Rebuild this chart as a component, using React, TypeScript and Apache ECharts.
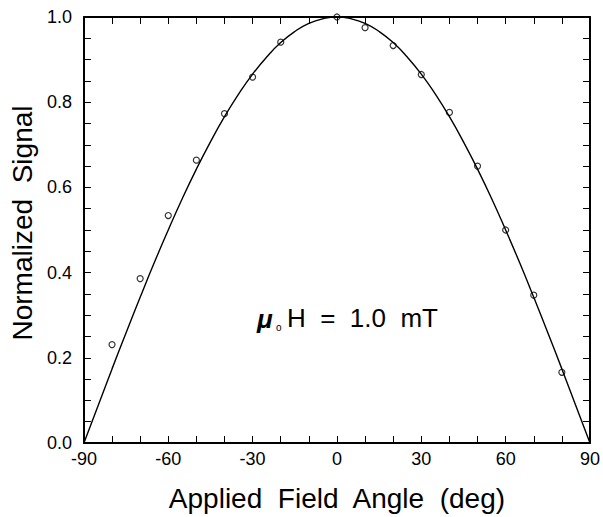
import React, { useEffect, useRef } from "react";
import * as echarts from "echarts";

// Measured points (angle in degrees, normalized signal)
const pointAngles = [-80, -70, -60, -50, -40, -30, -20, 0, 10, 20, 30, 40, 50, 60, 70, 80];
const pointValues = [0.231, 0.386, 0.534, 0.664, 0.773, 0.859, 0.941, 1.0, 0.975, 0.933, 0.865, 0.776, 0.65, 0.5, 0.347, 0.166];

// Fitted curve at 5-degree steps
const curveAngles = [
  -90, -85, -80, -75, -70, -65, -60, -55, -50, -45, -40, -35, -30, -25, -20, -15, -10, -5, 0,
  5, 10, 15, 20, 25, 30, 35, 40, 45, 50, 55, 60, 65, 70, 75, 80, 85, 90,
];
const curveValues = [
  0.0, 0.087, 0.174, 0.259, 0.342, 0.423, 0.5, 0.574, 0.643, 0.707, 0.766, 0.819, 0.866, 0.906, 0.94, 0.966, 0.985, 0.996, 1.0,
  0.996, 0.985, 0.966, 0.94, 0.906, 0.866, 0.819, 0.766, 0.707, 0.643, 0.574, 0.5, 0.423, 0.342, 0.259, 0.174, 0.087, 0.0,
];

const xMajorTicks = [-90, -60, -30, 0, 30, 60, 90];
const yMajorTicks = ["0.0", "0.2", "0.4", "0.6", "0.8", "1.0"];

const FONT = "'Liberation Sans', Arial, Helvetica, sans-serif";

export default function App() {
  const ref = useRef<HTMLDivElement>(null);
  useEffect(() => {
    if (!ref.current) return;
    const chart = echarts.init(ref.current, undefined, { renderer: "svg" });
    const axisLine = { show: true, onZero: false, lineStyle: { color: "#000", width: 2 } };
    const axisTick = { show: true, inside: true, length: 7, lineStyle: { color: "#000", width: 1 } };
    const xFmt = (v: number) => (xMajorTicks.indexOf(Math.round(v)) >= 0 && Math.abs(v - Math.round(v)) < 1e-6 ? String(Math.round(v)) : "");
    const yFmt = (v: number) => {
      const s = v.toFixed(1);
      return Math.abs(v * 5 - Math.round(v * 5)) < 1e-6 && yMajorTicks.indexOf(s) >= 0 ? s : "";
    };
    chart.setOption({
      animation: false,
      backgroundColor: "#fff",
      grid: { left: 79, right: 11, top: 17, bottom: 69 },
      xAxis: [
        {
          type: "value",
          min: -90,
          max: 90,
          interval: 10,
          position: "bottom",
          axisLine,
          axisTick,
          splitLine: { show: false },
          axisLabel: { color: "#000", fontSize: 18, fontFamily: FONT, margin: 7, formatter: xFmt, hideOverlap: false },
          name: "Applied  Field  Angle  (deg)",
          nameLocation: "middle",
          nameGap: 41,
          nameTextStyle: { color: "#000", fontSize: 28, fontFamily: FONT },
        },
        {
          type: "value",
          min: -90,
          max: 90,
          interval: 10,
          position: "top",
          axisLine,
          axisTick,
          splitLine: { show: false },
          axisLabel: { show: false },
        },
      ],
      yAxis: [
        {
          type: "value",
          min: 0,
          max: 1,
          interval: 0.05,
          position: "left",
          axisLine,
          axisTick,
          splitLine: { show: false },
          axisLabel: { color: "#000", fontSize: 18, fontFamily: FONT, margin: 12, formatter: yFmt, hideOverlap: false },
          name: "Normalized  Signal",
          nameLocation: "middle",
          nameGap: 43,
          nameTextStyle: { color: "#000", fontSize: 28, fontFamily: FONT, padding: [0, 0, 0, 14] },
        },
        {
          type: "value",
          min: 0,
          max: 1,
          interval: 0.05,
          position: "right",
          axisLine,
          axisTick,
          splitLine: { show: false },
          axisLabel: { show: false },
        },
      ],
      series: [
        {
          type: "line",
          data: curveAngles.map((a, i) => [a, curveValues[i]]),
          smooth: true,
          showSymbol: false,
          lineStyle: { color: "#000", width: 1.4 },
          z: 2,
        },
        {
          type: "scatter",
          data: pointAngles.map((a, i) => [a, pointValues[i]]),
          symbol: "circle",
          symbolSize: 6,
          itemStyle: { color: "rgba(0,0,0,0)", borderColor: "#000", borderWidth: 1.2 },
          z: 3,
        },
      ],
      graphic: [
        {
          type: "text",
          left: 257,
          top: 306,
          style: { text: "μ", fontSize: 26, fontWeight: "bold", fontStyle: "italic", fontFamily: FONT, fill: "#000" },
        },
        {
          type: "text",
          left: 276,
          top: 322,
          style: { text: "o", fontSize: 10, fontFamily: FONT, fill: "#000" },
        },
        {
          type: "text",
          left: 287,
          top: 305,
          style: { text: "H  =  1.0  mT", fontSize: 26, fontFamily: FONT, fill: "#000" },
        },
      ],
    });
    return () => chart.dispose();
  }, []);
  return <div ref={ref} style={{ position: "fixed", left: 0, top: 0, width: 603, height: 517 }} />;
}
